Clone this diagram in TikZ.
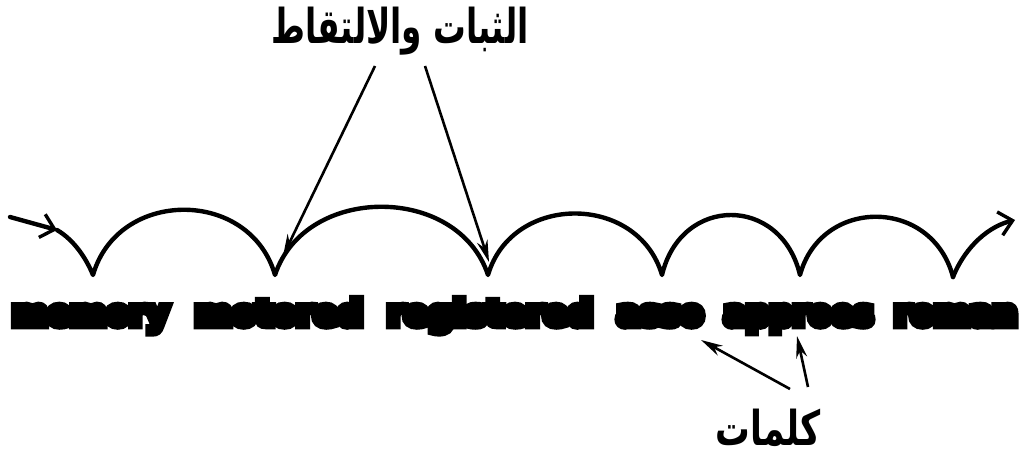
\documentclass[tikz,border=0pt]{standalone}
\usepackage{fontspec}
\usetikzlibrary{arrows.meta}
\TeXXeTstate=1
\newfontfamily\arabicfont[Script=Arabic]{DejaVu Sans}
\newfontfamily\smudgefont[FakeBold=25]{DejaVu Sans}
\tikzset{
  curve/.style={line width=4.4pt, line cap=round, line join=round},
  barb/.style={-{Straight Barb[length=13pt,width=24pt,line width=3.4pt]}},
  pointer/.style={line width=2.6pt, -{Stealth[length=22pt,width=11pt]}},
  word/.style={font=\smudgefont\bfseries\fontsize{34}{34}\selectfont, inner sep=0pt, anchor=base west},
  arlabel/.style={font=\arabicfont\bfseries\fontsize{48}{52}\selectfont, inner sep=0pt, xscale=0.68}
}
\begin{document}
\begin{tikzpicture}[x=1pt,y=-1pt]
\useasboundingbox (0,0) rectangle (1033,457);
% labels
\node[arlabel] (title) at (400,31) {\beginR الثبات والالتقاط\endR};
\node[arlabel, xscale=1.06] (kalimat) at (768,428) {\beginR كلمات\endR};
% words
\node[word, xscale=1.0] (w1) at (12,325) {memory};
\node[word, xscale=1.03] (w2) at (195,325) {motored};
\node[word, xscale=1.03] (w3) at (387,325) {registered};
\node[word, xscale=0.99] (w4) at (617,325) {asso};
\node[word, xscale=0.96] (w5) at (724,325) {approes};
\node[word, xscale=1.0] (w6) at (894,325) {roman};
% curve points
\coordinate (a0) at (10,217);
\coordinate (a1) at (57,230);
\coordinate (c1) at (93,275);
\coordinate (c2) at (275,275);
\coordinate (c3) at (488,275);
\coordinate (c4) at (662,275);
\coordinate (c5) at (800,275);
\coordinate (c6) at (953,277);
\coordinate (e) at (1015,220);
\draw[curve,barb] (a0) -- (a1);
\draw[curve] (a1) .. controls (74,240) and (86,258) .. (c1)
  .. controls (118,188) and (250,188) .. (c2)
  .. controls (305,184) and (458,184) .. (c3)
  .. controls (512,193) and (638,193) .. (c4)
  .. controls (681,195) and (781,195) .. (c5)
  .. controls (821,197) and (932,197) .. (c6);
\draw[curve,barb] (c6) .. controls (966,245) and (990,226) .. (e);
% pointers
\coordinate (t1) at (375,66);
\coordinate (t2) at (425,66);
\coordinate (h1) at (283,256);
\coordinate (h2) at (489,262);
\draw[pointer] (t1) -- (h1);
\draw[pointer] (t2) -- (h2);
\coordinate (b1) at (790,389);
\coordinate (b2) at (808,387);
\coordinate (g1) at (701,340);
\coordinate (g2) at (797,336);
\draw[pointer] (b1) -- (g1);
\draw[pointer] (b2) -- (g2);
\end{tikzpicture}
\end{document}
